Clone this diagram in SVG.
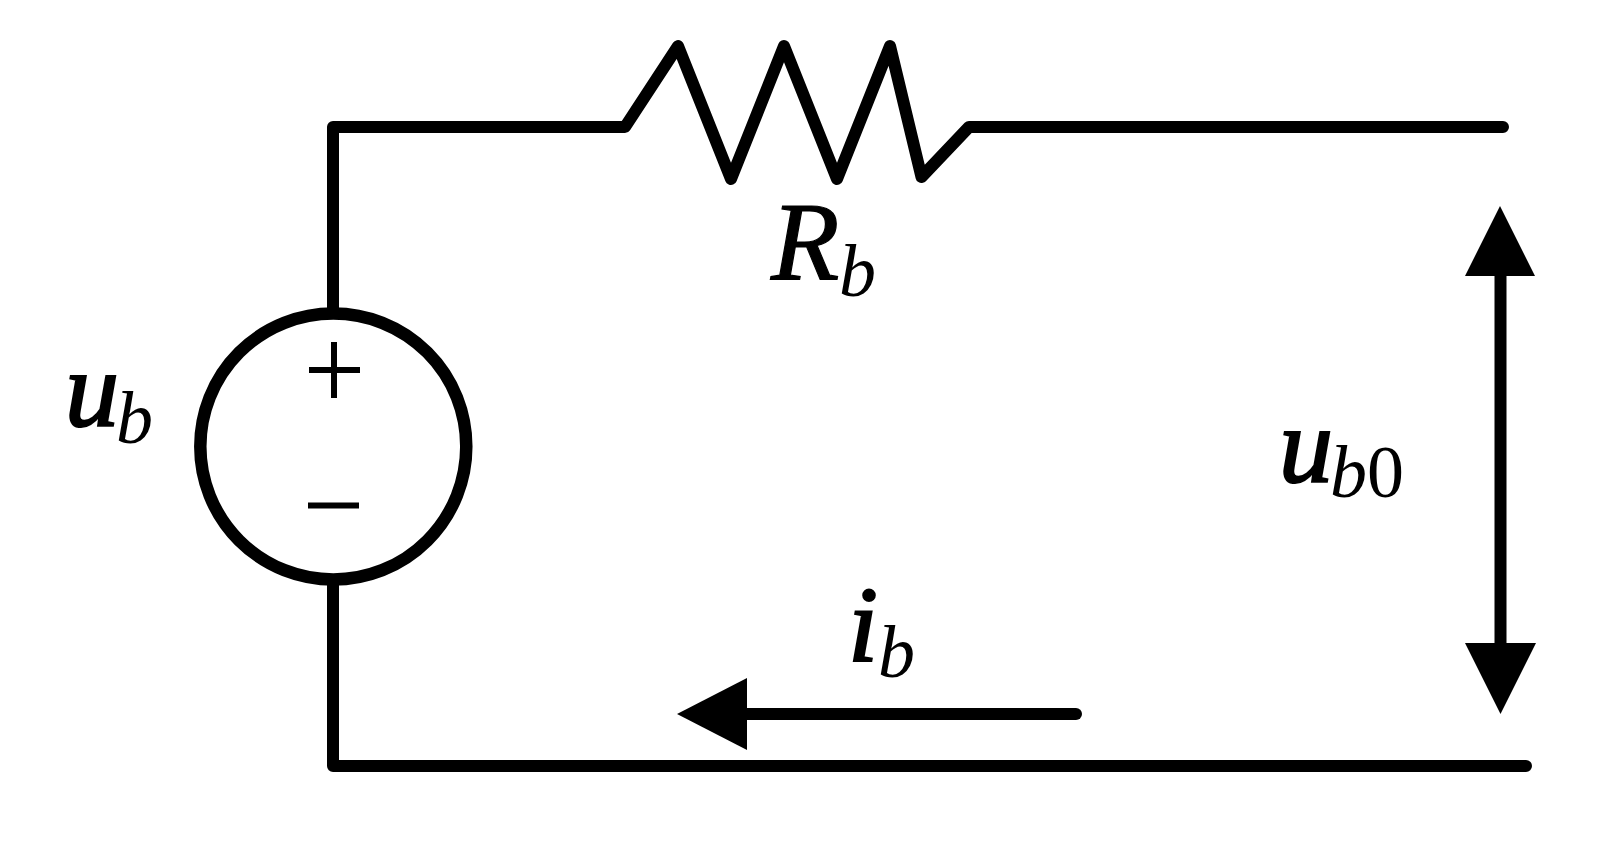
<svg xmlns="http://www.w3.org/2000/svg" width="1617" height="855" viewBox="0 0 1617 855">
<style>
.w{fill:none;stroke:#000;stroke-width:12;stroke-linecap:round;stroke-linejoin:round}
.c{fill:none;stroke:#000;stroke-width:12.500}
.h{fill:#000;stroke:none}
.t{font-family:"Liberation Serif","Times New Roman",serif;font-style:italic;fill:#000}
.m{font-size:108px;stroke:#000;stroke-width:2.200}
.cap{font-size:112px;stroke:#000;stroke-width:1.200}
.s{font-size:74px;stroke:none}
.r{font-style:normal}
.p{fill:none;stroke:#000;stroke-width:6}
</style>
<rect width="1617" height="855" fill="#fff"/>
<g id="connectors">
<path class="w" d="M333 310V127H625L678 46L731 179L784 46L837 179L890 46L921.500 177L969 127H1503"/>
<path class="w" d="M333 580V766H1526"/>
<path class="w" d="M1500.500 270V650"/>
<polygon class="h" points="1500,206 1535,276 1465,276"/>
<polygon class="h" points="1500.500,714 1465,643 1536,643"/>
<path class="w" d="M1076 714H740"/>
<polygon class="h" points="677,714 747,678 747,750"/>
</g>
<g id="source">
<circle class="c" cx="333.300" cy="446.500" r="133"/>
<path class="p" d="M309 370H360M334 342V398M308 505.500H359"/>
<text class="t m" x="65" y="426">u<tspan class="s" x="116" y="443">b</tspan></text>
</g>
<g id="resistor-label">
<text class="t cap" x="771" y="279">R<tspan class="s" x="839" y="296">b</tspan></text>
</g>
<g id="voltage-label">
<text class="t m" x="1279" y="482">u<tspan class="s" x="1330" y="497">b</tspan><tspan class="s r" x="1367" y="497">0</tspan></text>
</g>
<g id="current-label">
<text class="t m" x="848" y="661">i<tspan class="s" x="878" y="677">b</tspan></text>
</g>
</svg>
